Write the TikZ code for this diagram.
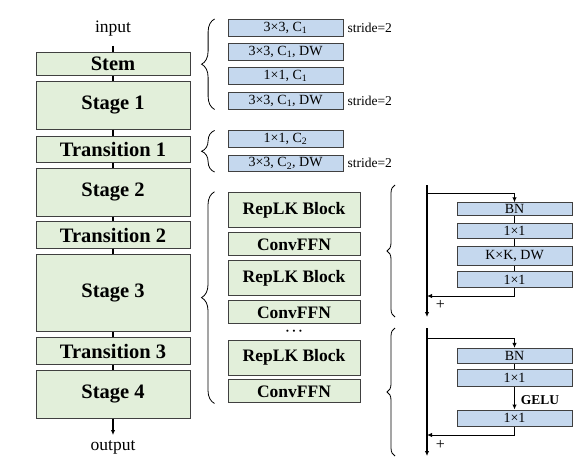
\documentclass[tikz,border=0pt]{standalone}
\usepackage{fontspec}
\setmainfont{Liberation Serif}
\usetikzlibrary{positioning,decorations.pathreplacing,arrows.meta}
\definecolor{stagegreen}{HTML}{E2EFDA}
\definecolor{opblue}{HTML}{C5D8EE}
\definecolor{edgegray}{HTML}{404040}

\begin{document}
\begin{tikzpicture}[x=1pt,y=-1pt,every node/.append style={inner sep=0pt},
    stage/.style={draw=edgegray,line width=1pt,fill=stagegreen,minimum width=154pt,
                  font=\fontsize{20.5}{22}\selectfont\bfseries},
    block/.style={draw=edgegray,line width=1pt,fill=stagegreen,minimum width=132pt,
                  font=\fontsize{17.5}{19}\selectfont\bfseries},
    op/.style={draw=edgegray,line width=.8pt,fill=opblue,minimum width=115pt,
               minimum height=16.7pt,font=\fontsize{14}{15}\selectfont},
    note/.style={font=\fontsize{13.5}{15}\selectfont},
    link/.style={line width=1.8pt},
    thinlink/.style={line width=1pt},
    tip/.style={-{Latex[length=5pt,width=4.5pt]}},
    grp/.style={decorate,decoration={brace,amplitude=#1},line width=.8pt}]
    \useasboundingbox (0,0) rectangle (578,466);

    % main column
    \node[font=\fontsize{17.5}{19}\selectfont] (in) at (113,29) {input};
    \node[stage,minimum height=23pt]   (stem) at (113,63.5)  {Stem};
    \node[stage,minimum height=48pt]   (s1)   at (113,105)   {Stage 1};
    \node[stage,minimum height=26pt]   (t1)   at (113,149)   {Transition 1};
    \node[stage,minimum height=48pt]   (s2)   at (113,192)   {Stage 2};
    \node[stage,minimum height=26.5pt] (t2)   at (113,235)   {Transition 2};
    \node[stage,minimum height=76.7pt] (s3)   at (113,293.3) {Stage 3};
    \node[stage,minimum height=26.3pt] (t3)   at (113,351)   {Transition 3};
    \node[stage,minimum height=48pt]   (s4)   at (113,394)   {Stage 4};
    \node[font=\fontsize{17.5}{19}\selectfont] (out) at (113,447) {output};
    \draw[link,shorten <=9pt] (in) -- (stem);
    \draw[link] (stem) -- (s1);
    \draw[link] (s1) -- (t1);
    \draw[link] (t1) -- (s2);
    \draw[link] (s2) -- (t2);
    \draw[link] (t2) -- (s3);
    \draw[link] (s3) -- (t3);
    \draw[link] (t3) -- (s4);
    \draw[link,tip,shorten >=5pt] (s4) -- (out);

    % stem and transition
    \node[op] (b1) at (285.5,27.7)  {3×3, C\textsubscript{1}};
    \node[op] (b2) at (285.5,51.7)  {3×3, C\textsubscript{1}, DW};
    \node[op] (b3) at (285.5,76)    {1×1, C\textsubscript{1}};
    \node[op] (b4) at (285.5,100.7) {3×3, C\textsubscript{1}, DW};
    \node[op] (b5) at (285.5,139.2) {1×1, C\textsubscript{2}};
    \node[op] (b6) at (285.5,163.3) {3×3, C\textsubscript{2}, DW};
    \node[note,right=4pt of b1] (st1) {stride=2};
    \node[note,right=4pt of b4] (st2) {stride=2};
    \node[note,right=4pt of b6] (st3) {stride=2};
    \draw[grp=13pt] ([xshift=-13pt]b4.south west) -- ([xshift=-13pt]b1.north west);
    \draw[grp=13pt] ([xshift=-13pt]b6.south west) -- ([xshift=-13pt]b5.north west);

    % stage
    \node[block,minimum height=35pt]   (r1) at (294,209.8) {RepLK Block};
    \node[block,minimum height=23.3pt] (f1) at (294,244.3) {ConvFFN};
    \node[block,minimum height=35pt]   (r2) at (294,278.3) {RepLK Block};
    \node[block,minimum height=23.3pt] (f2) at (294,312.3) {ConvFFN};
    \node[font=\fontsize{13}{14}\selectfont\bfseries] (dots) at (294,333) {·\,·\,·};
    \node[block,minimum height=35pt]   (r3) at (294,357.7) {RepLK Block};
    \node[block,minimum height=23.3pt] (f3) at (294,391.3) {ConvFFN};
    \draw[grp=13pt] ([xshift=-13pt]f3.south west) -- ([xshift=-13pt]r1.north west);

    % RepLK block
    \coordinate (m1) at (427,185);
    \coordinate (m2) at (427,317);
    \coordinate (sp1) at (427,193.3);
    \coordinate (j1) at (427,296);
    \node[op,minimum height=13pt]   (bn1) at (514.5,209.2) {BN};
    \node[op,minimum height=15pt]   (c1)  at (514.5,230.8) {1×1};
    \node[op,minimum height=19pt]   (kk)  at (514.5,256.3) {K×K, DW};
    \node[op,minimum height=15.7pt] (c2)  at (514.5,279.5) {1×1};
    \node[font=\fontsize{16}{17}\selectfont] (plus1) at (440.5,305) {+};
    \draw[link,tip] (m1) -- (m2);
    \draw[thinlink,tip] (sp1) -| (bn1);
    \draw[thinlink] (bn1) -- (c1);
    \draw[thinlink] (c1) -- (kk);
    \draw[thinlink] (kk) -- (c2);
    \draw[thinlink,tip] (c2) |- (j1);
    \draw[grp=8pt] ([xshift=-32pt]m2) -- ([xshift=-32pt]m1);

    % ConvFFN
    \coordinate (m3) at (427,328);
    \coordinate (m4) at (427,456);
    \coordinate (sp2) at (427,338.3);
    \coordinate (j2) at (427,435);
    \node[op,minimum height=15pt]   (bn2) at (514.5,355.8) {BN};
    \node[op,minimum height=17.7pt] (c3)  at (514.5,377.8) {1×1};
    \node[op,minimum height=16.7pt] (c4)  at (514.5,418.3) {1×1};
    \node[font=\fontsize{13.5}{15}\selectfont\bfseries] (gelu) at (540,400) {GELU};
    \node[font=\fontsize{16}{17}\selectfont] (plus2) at (440.5,445) {+};
    \draw[link,tip] (m3) -- (m4);
    \draw[thinlink,tip] (sp2) -| (bn2);
    \draw[thinlink] (bn2) -- (c3);
    \draw[thinlink,tip] (c3) -- (c4);
    \draw[thinlink,tip] (c4) |- (j2);
    \draw[grp=8pt] ([xshift=-32pt]m4) -- ([xshift=-32pt]m3);
\end{tikzpicture}
\end{document}
